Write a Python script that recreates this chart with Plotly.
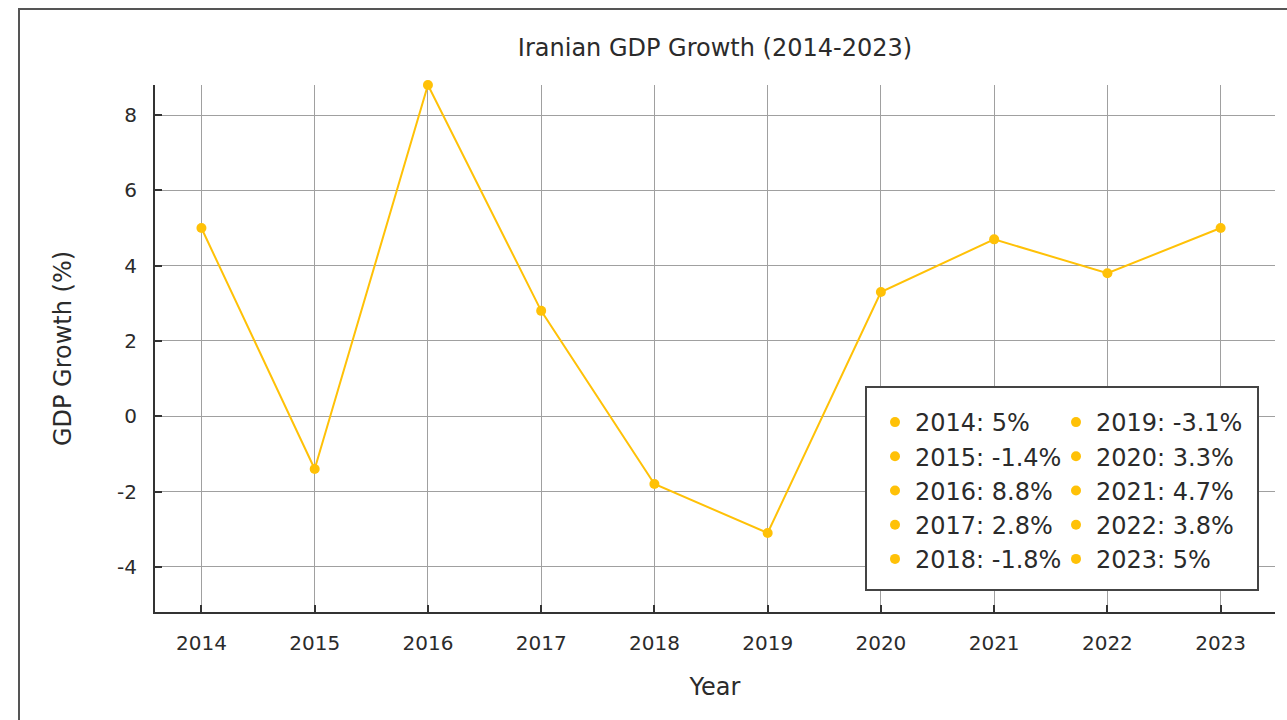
import plotly.graph_objects as go

years = [2014, 2015, 2016, 2017, 2018, 2019, 2020, 2021, 2022, 2023]
growth = [5, -1.4, 8.8, 2.8, -1.8, -3.1, 3.3, 4.7, 3.8, 5]
y_ticks = [-4, -2, 0, 2, 4, 6, 8]
y_tick_labels = ["-4", "-2", "0", "2", "4", "6", "8"]
x_tick_labels = [str(y) for y in years]

LINE_COLOR = "#FFC107"
TEXT = "#2b2b2b"
FONT = "DejaVu Sans"
W, H = 1287, 720
L, R, T, B = 155, 12, 85, 108
PW, PH = W - L - R, H - T - B


def px_x(x):
    return (x - L) / PW


def px_y(y):
    return (H - B - y) / PH


fig = go.Figure()
fig.add_trace(go.Scatter(x=years, y=growth, mode="lines",
                         line=dict(color=LINE_COLOR, width=2),
                         showlegend=False, hoverinfo="skip", cliponaxis=False))

half = len(years) // 2
for i, (yr, v) in enumerate(zip(years, growth)):
    fig.add_trace(go.Scatter(
        x=[yr], y=[v], mode="markers",
        marker=dict(color=LINE_COLOR, size=10),
        name=f"{yr}: {v:g}%", cliponaxis=False,
        legend="legend" if i < half else "legend2",
    ))

legend_common = dict(font=dict(family=FONT, size=24, color=TEXT),
                     bgcolor="rgba(0,0,0,0)", borderwidth=0,
                     xanchor="left", yanchor="top", orientation="v",
                     tracegroupgap=0)

fig.update_layout(
    width=W, height=H,
    margin=dict(l=L, r=R, t=T, b=B, autoexpand=False),
    paper_bgcolor="white", plot_bgcolor="white",
    font=dict(family=FONT, size=20, color=TEXT),
    title=dict(text="Iranian GDP Growth (2014-2023)",
               font=dict(family=FONT, size=24, color=TEXT),
               x=0.5, xref="paper", xanchor="center",
               y=1 - 48 / H, yref="container", yanchor="middle"),
    legend=dict(x=px_x(875), y=px_y(400), **legend_common),
    legend2=dict(x=px_x(1056), y=px_y(400), **legend_common),
    xaxis=dict(range=[2013.59, 2023.48], tickvals=years, ticktext=x_tick_labels,
               showgrid=True, gridcolor="#a0a0a0", gridwidth=1,
               showline=True, linecolor="#333", linewidth=2,
               ticks="inside", ticklen=7, tickwidth=2, tickcolor="#333",
               ticklabelstandoff=12, zeroline=False, automargin=False,
               tickfont=dict(family=FONT, size=20, color=TEXT),
               title=dict(text="Year", standoff=24,
                          font=dict(family=FONT, size=24, color=TEXT))),
    yaxis=dict(range=[-5.2, 8.8], tickvals=y_ticks, ticktext=y_tick_labels,
               showgrid=True, gridcolor="#a0a0a0", gridwidth=1,
               showline=True, linecolor="#333", linewidth=2,
               ticks="inside", ticklen=7, tickwidth=2, tickcolor="#333",
               ticklabelstandoff=12, zeroline=False, automargin=False,
               tickfont=dict(family=FONT, size=20, color=TEXT),
               title=dict(text="GDP Growth (%)", standoff=39,
                          font=dict(family=FONT, size=24, color=TEXT))),
    shapes=[
        dict(type="rect", xref="paper", yref="paper",
             x0=px_x(19), x1=1.3, y0=-0.5, y1=px_y(9),
             line=dict(color="#555", width=2), fillcolor="rgba(0,0,0,0)",
             layer="below"),
        dict(type="rect", xref="paper", yref="paper",
             x0=px_x(866), x1=px_x(1258), y0=px_y(590), y1=px_y(387),
             line=dict(color="#444", width=2), fillcolor="white",
             layer="above"),
    ],
)

fig.write_html("out.html")
